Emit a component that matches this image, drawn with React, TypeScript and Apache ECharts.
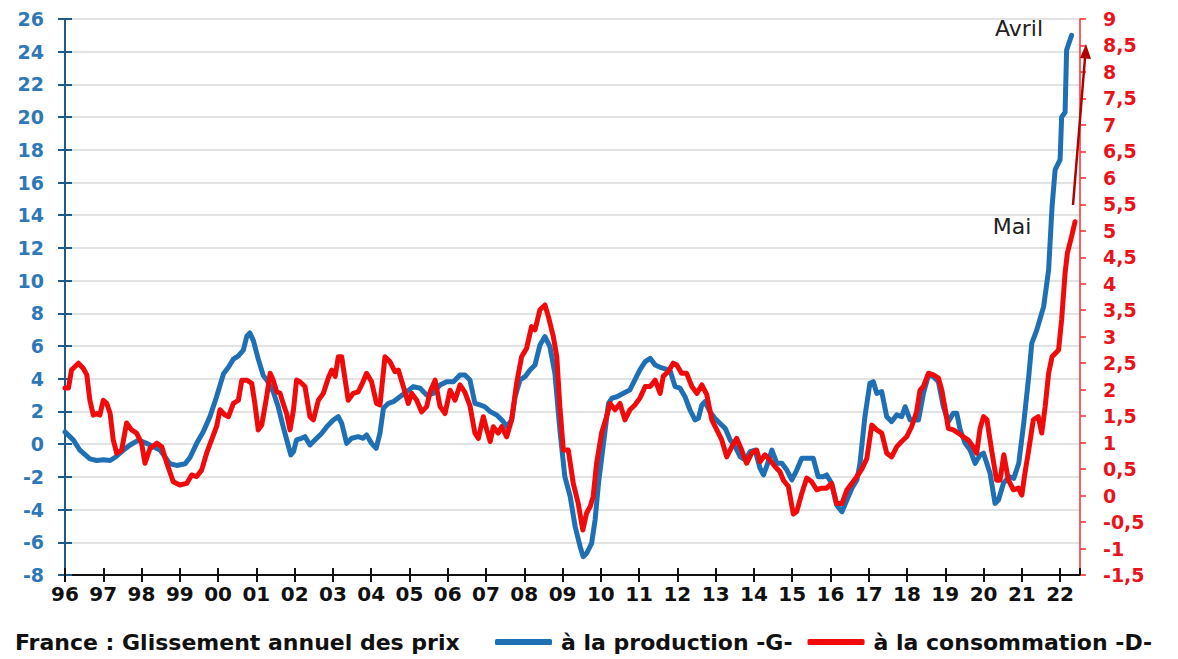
import React, { useEffect, useRef } from "react";
import * as echarts from "echarts";

// x = years since January 1996, value = % (left axis for production, right axis for consumption)
const production: [number, number][] = [
  [0.00,0.75],[0.22,0.25],[0.39,-0.37],[0.65,-0.9],[0.83,-1.0],[1.00,-0.95],[1.18,-1.0],[1.31,-0.8],[1.48,-0.45],[1.70,-0.05],
  [1.92,0.25],[2.13,0.05],[2.48,-0.35],[2.74,-1.2],[2.92,-1.3],[3.14,-1.2],[3.27,-0.8],[3.44,0.05],[3.61,0.75],[3.79,1.7],
  [3.96,2.9],[4.14,4.3],[4.27,4.7],[4.40,5.2],[4.53,5.4],[4.66,5.75],[4.75,6.6],[4.83,6.8],[4.92,6.35],[5.05,5.2],
  [5.18,4.2],[5.27,3.93],[5.44,3.21],[5.57,2.3],[5.70,1.07],[5.83,-0.05],[5.90,-0.66],[5.97,-0.46],[6.05,0.26],[6.18,0.36],
  [6.27,0.46],[6.40,-0.05],[6.53,0.26],[6.71,0.67],[6.84,1.07],[7.01,1.48],[7.14,1.68],[7.23,1.28],[7.36,0.05],[7.49,0.36],
  [7.66,0.46],[7.79,0.36],[7.88,0.56],[8.01,0.05],[8.13,-0.25],[8.23,0.67],[8.32,2.2],[8.45,2.5],[8.58,2.6],[8.75,2.9],
  [8.93,3.21],[9.10,3.52],[9.28,3.42],[9.45,3.0],[9.62,3.11],[9.80,3.62],[9.97,3.82],[10.15,3.82],[10.32,4.23],[10.45,4.23],
  [10.58,3.93],[10.71,2.5],[10.84,2.4],[10.97,2.29],[11.11,1.99],[11.28,1.79],[11.45,1.38],[11.54,1.07],[11.67,1.48],[11.76,2.9],
  [11.89,3.93],[12.02,4.13],[12.15,4.54],[12.28,4.84],[12.41,6.07],[12.54,6.58],[12.67,5.96],[12.80,4.34],[12.93,0.87],[13.06,-1.99],
  [13.20,-3.21],[13.33,-5.05],[13.46,-6.27],[13.54,-6.88],[13.63,-6.67],[13.76,-6.06],[13.85,-4.64],[13.94,-2.39],[14.07,0.05],[14.20,2.5],
  [14.29,2.81],[14.42,2.9],[14.59,3.11],[14.76,3.32],[14.89,3.93],[15.02,4.54],[15.16,5.05],[15.29,5.25],[15.42,4.84],[15.55,4.7],
  [15.68,4.6],[15.81,4.5],[15.94,3.52],[16.07,3.42],[16.20,2.9],[16.33,2.09],[16.46,1.48],[16.55,1.58],[16.64,2.4],[16.72,2.6],
  [16.85,1.99],[16.98,1.58],[17.11,1.28],[17.25,0.97],[17.38,0.26],[17.51,-0.15],[17.64,-0.76],[17.77,-0.97],[17.90,-0.46],[18.03,-0.36],
  [18.16,-1.47],[18.25,-1.88],[18.33,-1.38],[18.47,-0.36],[18.60,-1.17],[18.73,-1.17],[18.86,-1.58],[18.99,-2.19],[19.12,-1.58],[19.25,-0.86],
  [19.38,-0.86],[19.55,-0.86],[19.68,-1.99],[19.81,-1.99],[19.90,-1.88],[20.03,-2.39],[20.16,-3.72],[20.30,-4.13],[20.43,-3.41],[20.56,-2.7],
  [20.69,-2.19],[20.77,-1.2],[20.90,1.68],[21.03,3.72],[21.12,3.82],[21.21,3.11],[21.34,3.21],[21.47,1.68],[21.60,1.38],[21.73,1.79],
  [21.86,1.68],[21.95,2.29],[22.08,1.48],[22.30,1.48],[22.43,3.11],[22.56,4.23],[22.69,4.13],[22.82,3.82],[22.95,2.29],[23.08,1.38],
  [23.21,1.89],[23.30,1.89],[23.39,0.87],[23.52,0.05],[23.65,-0.36],[23.78,-1.17],[23.91,-0.66],[24.00,-0.55],[24.17,-1.78],[24.30,-3.62],
  [24.39,-3.41],[24.52,-2.39],[24.66,-1.99],[24.79,-2.09],[24.92,-1.17],[25.05,1.28],[25.18,4.13],[25.26,6.17],[25.39,6.98],[25.57,8.41],
  [25.70,10.65],[25.79,14.53],[25.87,16.77],[26.00,17.4],[26.04,20.0],[26.13,20.3],[26.17,24.1],[26.30,25.0],
];

const consumption: [number, number][] = [
  [0.00,2.03],[0.09,2.03],[0.17,2.37],[0.35,2.5],[0.48,2.4],[0.57,2.28],[0.65,1.8],[0.74,1.52],[0.83,1.55],[0.91,1.52],
  [1.00,1.8],[1.09,1.74],[1.18,1.55],[1.26,1.05],[1.35,0.8],[1.48,0.86],[1.61,1.37],[1.74,1.24],[1.87,1.18],[2.00,0.99],
  [2.09,0.61],[2.22,0.89],[2.40,0.99],[2.53,0.92],[2.66,0.61],[2.83,0.26],[3.00,0.2],[3.18,0.23],[3.31,0.39],[3.44,0.36],
  [3.57,0.48],[3.70,0.8],[3.83,1.05],[3.96,1.3],[4.05,1.62],[4.18,1.52],[4.27,1.49],[4.40,1.74],[4.53,1.8],[4.62,2.18],
  [4.75,2.18],[4.88,2.12],[4.96,1.74],[5.05,1.24],[5.14,1.33],[5.27,1.87],[5.36,2.31],[5.44,2.18],[5.53,1.96],[5.62,1.93],
  [5.70,1.74],[5.79,1.55],[5.88,1.24],[5.97,1.62],[6.05,2.18],[6.14,2.15],[6.27,2.06],[6.40,1.49],[6.49,1.43],[6.62,1.8],
  [6.75,1.93],[6.88,2.22],[6.97,2.37],[7.06,2.25],[7.14,2.62],[7.23,2.62],[7.32,2.18],[7.40,1.8],[7.53,1.93],[7.66,1.96],
  [7.75,2.09],[7.88,2.31],[8.01,2.15],[8.14,1.74],[8.23,1.71],[8.36,2.62],[8.49,2.53],[8.62,2.34],[8.71,2.37],[8.84,2.06],
  [8.97,1.74],[9.06,1.93],[9.19,1.8],[9.32,1.58],[9.45,1.68],[9.54,1.96],[9.67,2.18],[9.80,1.68],[9.93,1.55],[10.06,1.99],
  [10.19,1.8],[10.32,2.09],[10.45,1.95],[10.58,1.7],[10.71,1.18],[10.80,1.08],[10.93,1.49],[11.02,1.24],[11.11,1.02],[11.19,1.3],
  [11.32,1.18],[11.41,1.3],[11.54,1.11],[11.67,1.43],[11.80,2.12],[11.93,2.62],[12.06,2.78],[12.19,3.19],[12.28,3.13],[12.41,3.51],
  [12.54,3.6],[12.63,3.38],[12.76,3.0],[12.85,2.62],[12.93,1.68],[13.02,0.86],[13.15,0.86],[13.28,0.23],[13.41,-0.15],[13.53,-0.65],
  [13.63,-0.33],[13.72,-0.21],[13.80,-0.02],[13.89,0.61],[14.02,1.18],[14.15,1.49],[14.24,1.74],[14.37,1.62],[14.50,1.74],[14.63,1.43],
  [14.76,1.62],[14.89,1.71],[15.02,1.84],[15.16,2.06],[15.29,2.06],[15.42,2.18],[15.55,1.93],[15.63,2.25],[15.76,2.34],[15.89,2.5],
  [15.98,2.47],[16.11,2.31],[16.24,2.31],[16.38,2.06],[16.51,1.93],[16.64,2.09],[16.77,1.9],[16.90,1.43],[17.03,1.24],[17.16,1.05],
  [17.29,0.73],[17.42,0.92],[17.55,1.08],[17.68,0.86],[17.81,0.61],[17.94,0.8],[18.07,0.86],[18.16,0.64],[18.29,0.77],[18.42,0.67],
  [18.55,0.55],[18.68,0.45],[18.77,0.29],[18.90,0.17],[19.03,-0.35],[19.12,-0.3],[19.25,0.04],[19.38,0.33],[19.51,0.26],[19.64,0.11],
  [19.77,0.14],[19.90,0.14],[20.03,0.23],[20.16,-0.15],[20.30,-0.15],[20.43,0.11],[20.56,0.23],[20.69,0.36],[20.82,0.5],[20.95,0.7],
  [21.08,1.33],[21.21,1.24],[21.34,1.18],[21.47,0.8],[21.60,0.73],[21.73,0.92],[21.86,1.02],[21.99,1.11],[22.12,1.3],[22.25,1.58],
  [22.34,1.99],[22.43,2.06],[22.56,2.31],[22.69,2.28],[22.82,2.22],[22.91,1.99],[23.00,1.62],[23.08,1.27],[23.21,1.24],[23.34,1.18],
  [23.47,1.11],[23.60,1.05],[23.73,0.92],[23.82,0.8],[23.91,1.27],[24.00,1.49],[24.09,1.43],[24.21,0.86],[24.34,0.29],[24.43,0.29],
  [24.53,0.77],[24.65,0.29],[24.78,0.11],[24.91,0.14],[25.00,0.01],[25.08,0.42],[25.18,0.86],[25.30,1.43],[25.43,1.49],[25.52,1.18],
  [25.61,1.68],[25.70,2.31],[25.79,2.62],[25.96,2.75],[26.04,3.32],[26.13,4.2],[26.19,4.58],[26.30,4.89],[26.39,5.17],
];

const START_YEAR = 1996;
const X_MAX = 2022.52;
const leftRange = { min: -8, max: 26, interval: 2 };
const rightRange = { min: -1.5, max: 9, interval: 0.5 };
const seriesNames = ["à la production -G-", "à la consommation -D-"];
const titleText = "France : Glissement annuel des prix";
const notes = [
  { text: "Avril", x: 1019, y: 28 },
  { text: "Mai", x: 1012, y: 226 },
];

const FONT = "DejaVu Sans";
const BLUE = "#1f6fb5";
const RED = "#f00a0a";

export default function App() {
  const ref = useRef<HTMLDivElement>(null);

  useEffect(() => {
    if (!ref.current) return;
    const chart = echarts.init(ref.current, undefined, { renderer: "svg" });
    const toYear = (arr: [number, number][]) => arr.map(([t, v]) => [START_YEAR + t, v]);

    const xBase = {
      type: "value",
      min: START_YEAR,
      max: X_MAX,
      interval: 1,
      position: "bottom",
      splitLine: { show: false },
    };

    chart.setOption({
      animation: false,
      backgroundColor: "#ffffff",
      grid: { left: 65, right: 98, top: 19, bottom: 84 },
      xAxis: [
        {
          ...xBase,
          axisLine: { show: true, onZero: false, lineStyle: { color: "#111", width: 2 } },
          axisTick: { show: true, length: 7, lineStyle: { color: "#111", width: 2 } },
          axisLabel: {
            formatter: (v: number) => String(Math.round(v) % 100).padStart(2, "0"),
            fontFamily: FONT,
            fontWeight: "bold",
            fontSize: 20,
            color: "#111",
            margin: 9,
            showMaxLabel: false,
          },
        },
        {
          ...xBase,
          axisLine: { show: false, onZero: false },
          axisTick: { show: true, inside: true, length: 7, lineStyle: { color: "#111", width: 2 } },
          axisLabel: { show: false },
        },
      ],
      yAxis: [
        {
          type: "value",
          ...leftRange,
          position: "left",
          axisLine: { show: true, onZero: false, lineStyle: { color: "#1f5a8c", width: 2 } },
          axisTick: { show: true, length: 7, lineStyle: { color: "#1f5a8c", width: 2 } },
          axisLabel: { color: "#2f78b8", fontFamily: FONT, fontWeight: "bold", fontSize: 19, margin: 21 },
          splitLine: { show: true, lineStyle: { color: "#d9d9d9", width: 1.5 } },
        },
        {
          type: "value",
          ...rightRange,
          position: "right",
          axisLine: { show: true, onZero: false, lineStyle: { color: "#ff2a2a", width: 1.5 } },
          axisTick: { show: true, length: 6, lineStyle: { color: "#ff2a2a", width: 1.5 } },
          axisLabel: {
            color: "#e8141c",
            fontFamily: FONT,
            fontWeight: "bold",
            fontSize: 19,
            margin: 23,
            formatter: (v: number) => String(v).replace(".", ","),
          },
          splitLine: { show: false },
        },
        {
          type: "value",
          ...leftRange,
          position: "left",
          axisLine: { show: false, onZero: false },
          axisTick: { show: true, inside: true, length: 7, lineStyle: { color: "#1f5a8c", width: 2 } },
          axisLabel: { show: false },
          splitLine: { show: false },
        },
      ],
      legend: {
        left: 490,
        top: 626,
        icon: "roundRect",
        itemWidth: 57,
        itemHeight: 6,
        itemGap: 15,
        data: seriesNames,
        textStyle: { fontFamily: FONT, fontWeight: "bold", fontSize: 22, color: "#111", padding: [0, 0, 0, 4] },
      },
      series: [
        {
          name: seriesNames[0],
          type: "line",
          xAxisIndex: 0,
          yAxisIndex: 0,
          data: toYear(production),
          symbol: "none",
          showSymbol: false,
          itemStyle: { color: BLUE },
          lineStyle: { color: BLUE, width: 5, cap: "round", join: "round" },
          z: 2,
        },
        {
          name: seriesNames[1],
          type: "line",
          xAxisIndex: 0,
          yAxisIndex: 1,
          data: toYear(consumption),
          symbol: "none",
          showSymbol: false,
          itemStyle: { color: RED },
          lineStyle: { color: RED, width: 5, cap: "round", join: "round" },
          z: 3,
        },
      ],
      graphic: [
        {
          type: "text",
          x: 15,
          y: 642,
          style: {
            text: titleText,
            fontFamily: FONT,
            fontWeight: "bold",
            fontSize: 22,
            fill: "#111",
            align: "left",
            verticalAlign: "middle",
          },
        },
        ...notes.map((n) => ({
          type: "text",
          x: n.x,
          y: n.y,
          z: 100,
          style: {
            text: n.text,
            fontFamily: FONT,
            fontSize: 22,
            fill: "#222",
            align: "center",
            verticalAlign: "middle",
          },
        })),
        {
          type: "line",
          z: 100,
          shape: { x1: 1073, y1: 205, x2: 1085, y2: 58 },
          style: { stroke: "#b00000", lineWidth: 2.5 },
        },
        {
          type: "polygon",
          z: 100,
          shape: { points: [[1086, 44], [1091, 59], [1080, 58]] },
          style: { fill: "#b00000" },
        },
      ],
    });

    return () => chart.dispose();
  }, []);

  return (
    <div
      ref={ref}
      style={{ position: "fixed", left: 0, top: 0, width: 1178, height: 659, background: "#fff" }}
    />
  );
}
